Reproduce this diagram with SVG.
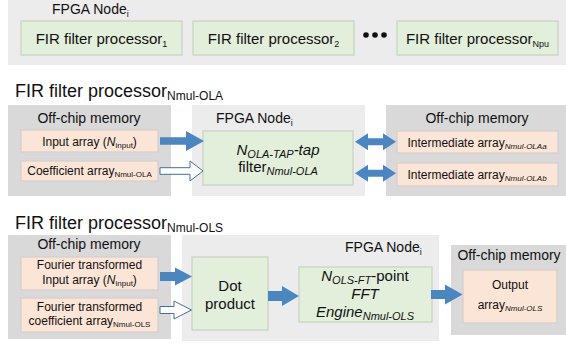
<svg xmlns="http://www.w3.org/2000/svg" width="566" height="345" viewBox="0 0 566 345">
<style>
text{font-family:"Liberation Sans",Arial,sans-serif;fill:#111}
.bgl{fill:#ececec}
.bgd{fill:#d9d9d9}
.grn{fill:#e2efda;stroke:#c8d1c0;stroke-width:1.2}
.sal{fill:#fbe5d6;stroke:#d6cfc9;stroke-width:1.2}
.arr{fill:#4a86c0}
.hol{fill:#fff;stroke:#41719c;stroke-width:1}
.t15{font-size:15px}
.t14{font-size:14px}
.t12{font-size:12px}
.it{font-style:italic}
</style>

<!-- Section 1 -->
<g id="fpga-node-top">
<rect class="bgl" x="8" y="0" width="558" height="65"/>
<text class="t14" x="52" y="14">FPGA Node<tspan font-size="9" dy="3">i</tspan></text>
</g>
<g id="fir1">
<rect class="grn" x="21" y="21" width="161" height="34"/>
<text class="t15" x="101.5" y="44" text-anchor="middle">FIR filter processor<tspan font-size="9" dy="3">1</tspan></text>
</g>
<g id="fir2">
<rect class="grn" x="193" y="21" width="161" height="34"/>
<text class="t15" x="273.5" y="44" text-anchor="middle">FIR filter processor<tspan font-size="9" dy="3">2</tspan></text>
</g>
<g id="dots">
<circle cx="366" cy="35" r="2.8" fill="#111"/>
<circle cx="375" cy="35" r="2.8" fill="#111"/>
<circle cx="384" cy="35" r="2.8" fill="#111"/>
</g>
<g id="firNpu">
<rect class="grn" x="397" y="21" width="161" height="34"/>
<text class="t15" x="477.5" y="44" text-anchor="middle">FIR filter processor<tspan font-size="9" dy="3">Npu</tspan></text>
</g>

<!-- Section 2 -->
<text x="15" y="97" font-size="18">FIR filter processor<tspan font-size="12" dy="3">Nmul-OLA</tspan></text>

<g id="ola-offchip-in">
<rect class="bgd" x="8" y="105" width="163" height="91"/>
<text class="t14" x="89" y="123" text-anchor="middle">Off-chip memory</text>
</g>
<g id="ola-input">
<rect class="sal" x="21" y="130" width="137" height="22"/>
<text class="t12" x="89.5" y="145.5" text-anchor="middle">Input array (<tspan class="it">N</tspan><tspan font-size="8" dy="2">input</tspan><tspan dy="-2">)</tspan></text>
</g>
<g id="ola-coef">
<rect class="sal" x="21" y="161" width="137" height="20"/>
<text class="t12" x="89.5" y="175" text-anchor="middle">Coefficient array<tspan font-size="8" dy="2">Nmul-OLA</tspan></text>
</g>
<g id="ola-fpga">
<rect class="bgl" x="192" y="105" width="173" height="91"/>
<text class="t14" x="216" y="123">FPGA Node<tspan font-size="9" dy="3">i</tspan></text>
</g>
<g id="ola-filter">
<rect class="grn" x="203" y="131" width="150" height="54"/>
<text class="t15 it" x="278" y="155" text-anchor="middle">N<tspan font-size="11" dy="3">OLA-TAP</tspan><tspan dy="-3">-tap</tspan></text>
<text class="t15" x="278" y="172" text-anchor="middle">filter<tspan class="it" font-size="11" dy="3">Nmul-OLA</tspan></text>
</g>
<g id="ola-offchip-out">
<rect class="bgd" x="386" y="105" width="180" height="91"/>
<text class="t14" x="477" y="123" text-anchor="middle">Off-chip memory</text>
</g>
<g id="ola-int-a">
<rect class="sal" x="397" y="131" width="161" height="22"/>
<text class="t12" x="477" y="147" text-anchor="middle">Intermediate array<tspan class="it" font-size="8" dy="2">Nmul-OLAa</tspan></text>
</g>
<g id="ola-int-b">
<rect class="sal" x="397" y="163" width="161" height="23"/>
<text class="t12" x="477" y="179" text-anchor="middle">Intermediate array<tspan class="it" font-size="8" dy="2">Nmul-OLAb</tspan></text>
</g>

<!-- Section 3 -->
<text x="15" y="229" font-size="18">FIR filter processor<tspan font-size="12" dy="3">Nmul-OLS</tspan></text>

<g id="ols-offchip-in">
<rect class="bgd" x="8" y="235" width="163" height="104"/>
<text class="t14" x="89" y="248.5" text-anchor="middle">Off-chip memory</text>
</g>
<g id="ols-input">
<rect class="sal" x="21" y="257" width="137" height="33"/>
<text class="t12" x="89.5" y="268.5" text-anchor="middle" font-size="12.5">Fourier transformed</text>
<text class="t12" x="89.5" y="283.5" text-anchor="middle" font-size="12.5">Input array (<tspan class="it">N</tspan><tspan font-size="8" dy="2">input</tspan><tspan dy="-2">)</tspan></text>
</g>
<g id="ols-coef">
<rect class="sal" x="21" y="298" width="137" height="34"/>
<text class="t12" x="89.5" y="310.5" text-anchor="middle" font-size="12.5">Fourier transformed</text>
<text class="t12" x="89.5" y="325" text-anchor="middle" font-size="12.5">coefficient array<tspan font-size="8" dy="2">Nmul-OLS</tspan></text>
</g>
<g id="ols-fpga">
<rect class="bgl" x="182" y="235" width="257" height="106"/>
<text class="t14" x="345" y="252">FPGA Node<tspan font-size="9" dy="3">i</tspan></text>
</g>
<g id="ols-dot">
<rect class="grn" x="192" y="257" width="76" height="73"/>
<text class="t15" x="230" y="291" text-anchor="middle">Dot</text>
<text class="t15" x="230" y="308.5" text-anchor="middle">product</text>
</g>
<g id="ols-fft">
<rect class="grn" x="299" y="267" width="133" height="55"/>
<text class="t15" x="365" y="281" text-anchor="middle"><tspan class="it">N</tspan><tspan class="it" font-size="11" dy="3">OLS-FT</tspan><tspan dy="-3">-point</tspan></text>
<text class="t15 it" x="365" y="298.5" text-anchor="middle">FFT</text>
<text class="t15 it" x="365" y="316.5" text-anchor="middle">Engine<tspan font-size="11" dy="3">Nmul-OLS</tspan></text>
</g>
<g id="ols-offchip-out">
<rect class="bgd" x="451" y="245" width="115" height="90"/>
<text class="t14" x="509" y="260" text-anchor="middle">Off-chip memory</text>
</g>
<g id="ols-output">
<rect class="sal" x="463" y="270" width="94" height="53"/>
<text class="t12" x="510" y="288.5" text-anchor="middle" font-size="13">Output</text>
<text class="t12" x="510" y="309" text-anchor="middle">array<tspan class="it" font-size="8" dy="2">Nmul-OLS</tspan></text>
</g>

<!-- Connectors -->
<g id="connectors">
<polygon class="arr" points="160,137.2 186,137.2 186,131 204,141 186,151 186,144.8 160,144.8"/>
<polygon class="hol" points="160,167.7 190,167.7 190,161 203,171 190,181 190,174.3 160,174.3"/>
<polygon class="arr" points="355,141.7 368,133.2 368,138.2 383,138.2 383,133.2 396,141.7 383,150.2 383,145.2 368,145.2 368,150.2"/>
<polygon class="arr" points="355,173.3 368,164.8 368,169.8 383,169.8 383,164.8 396,173.3 383,181.8 383,176.8 368,176.8 368,181.8"/>
<polygon class="arr" points="160,272 175,272 175,267.5 192,276.5 175,285.5 175,281 160,281"/>
<polygon class="hol" points="160,306.5 174,306.5 174,301 191.5,310 174,319 174,313.5 160,313.5"/>
<polygon class="arr" points="268,291 282,291 282,286 299,296 282,306 282,301 268,301"/>
<polygon class="arr" points="431,290 445,290 445,284.5 462.5,294.5 445,304.5 445,299 431,299"/>
</g>
</svg>
